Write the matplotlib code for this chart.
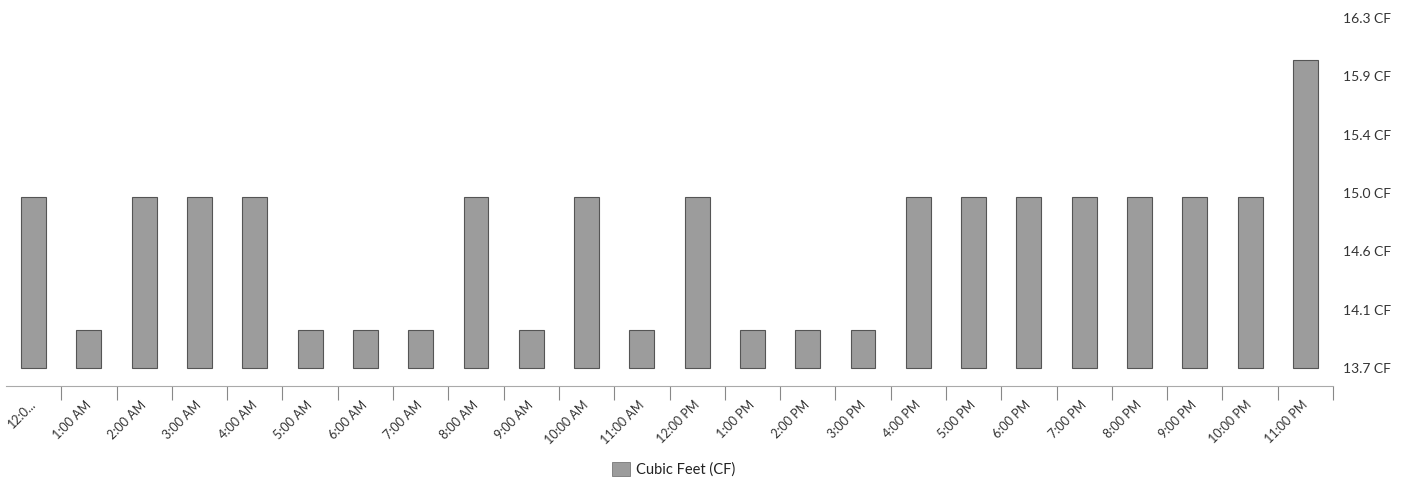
#!/usr/bin/env python3
"""Hourly water usage (cubic feet) bar chart."""

import matplotlib
matplotlib.use("Agg")
import matplotlib.pyplot as plt
from matplotlib.patches import Patch

# ----------- data -----------
hours = ["12:0...", "1:00 AM", "2:00 AM", "3:00 AM", "4:00 AM", "5:00 AM",
         "6:00 AM", "7:00 AM", "8:00 AM", "9:00 AM", "10:00 AM", "11:00 AM",
         "12:00 PM", "1:00 PM", "2:00 PM", "3:00 PM", "4:00 PM", "5:00 PM",
         "6:00 PM", "7:00 PM", "8:00 PM", "9:00 PM", "10:00 PM", "11:00 PM"]
usage_cf = [14.97, 13.98, 14.97, 14.97, 14.97, 13.98, 13.98, 13.98,
            14.97, 13.98, 14.97, 13.98, 14.97, 13.98, 13.98, 13.98,
            14.97, 14.97, 14.97, 14.97, 14.97, 14.97, 14.97, 15.99]
y_ticks = [13.7, 14.1333, 14.5667, 15.0, 15.4333, 15.8667, 16.3]
y_tick_labels = ["13.7 CF", "14.1 CF", "14.6 CF", "15.0 CF", "15.4 CF", "15.9 CF", "16.3 CF"]
base = 13.7

plt.rcParams["font.family"] = ["Lato", "DejaVu Sans"]
text_col = "#333333"

fig = plt.figure(figsize=(14.15, 4.84), dpi=100)
ax = fig.add_axes([6 / 1415, 98 / 484, 1327 / 1415, 368 / 484])

x = range(len(hours))
ax.bar(x, [v - base for v in usage_cf], bottom=base, width=0.45,
       color="#9c9c9c", edgecolor="#555555", linewidth=0.8)

ax.set_xlim(-0.5, len(hours) - 0.5)
ax.set_ylim(13.566, 16.3)

# y axis on the right, labels only
ax.yaxis.tick_right()
ax.set_yticks(y_ticks)
ax.set_yticklabels(y_tick_labels, fontsize=10, color=text_col)
ax.tick_params(axis="y", length=0, pad=7)

# x axis: labels at centres, tick marks at category boundaries
ax.set_xticks(list(x))
ax.set_xticklabels(hours, rotation=45, ha="right", va="center",
                   rotation_mode="anchor", fontsize=9, color=text_col)
ax.tick_params(axis="x", which="major", length=0, pad=12)
ax.set_xticks([i + 0.5 for i in range(len(hours))], minor=True)
ax.tick_params(axis="x", which="minor", length=10, width=0.8, color="#888888")

for s in ("top", "left", "right"):
    ax.spines[s].set_visible(False)
ax.spines["bottom"].set_color("#aaaaaa")
ax.spines["bottom"].set_linestyle((0, (1, 1)))
ax.spines["bottom"].set_linewidth(0.8)

fig.legend(handles=[Patch(facecolor="#9c9c9c", edgecolor="#777777", linewidth=0.6,
                          label="Cubic Feet (CF)")],
           loc="center", bbox_to_anchor=(0.476, 0.031), frameon=False,
           handlelength=1.2, handleheight=1.1, handletextpad=0.4,
           prop={"size": 10.5}, labelcolor="#222222")

fig.savefig("out.png", dpi=100)
